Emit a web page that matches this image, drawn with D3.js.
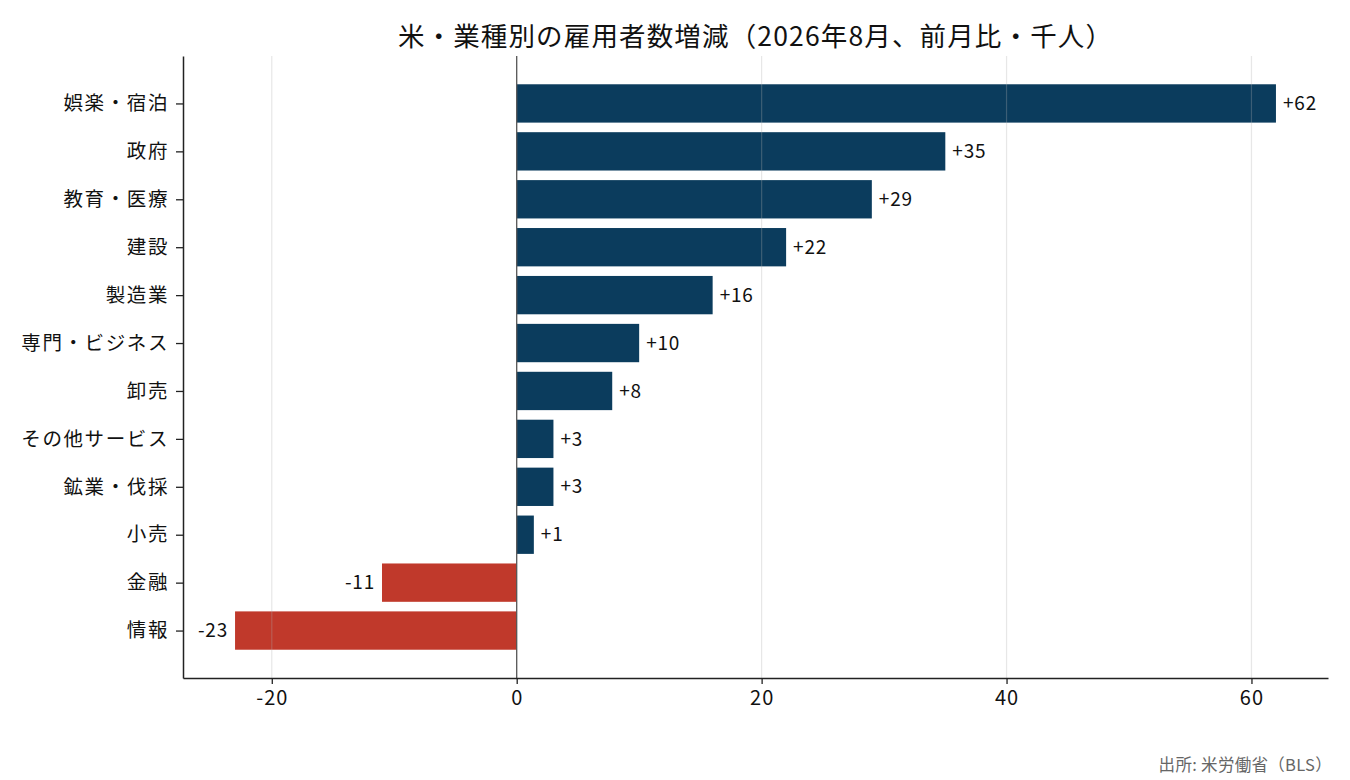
<!DOCTYPE html>
<html>
<head>
<meta charset="utf-8">
<script src="https://cdn.jsdelivr.net/npm/d3@7"></script>
<style>
  body { margin: 0; background: #fff; }
  svg { display: block; font-family: "Noto Sans CJK JP", "Noto Sans", sans-serif; }
</style>
</head>
<body>
<svg id="chart" width="1350" height="780"></svg>
<script>
// data, top to bottom
var categories = ['娯楽・宿泊', '政府', '教育・医療', '建設', '製造業', '専門・ビジネス',
  '卸売', 'その他サービス', '鉱業・伐採', '小売', '金融', '情報'];
var changes = [62, 35, 29, 22, 16, 10, 7.8, 3, 3, 1.4, -11, -23];
var xTicks = [-20, 0, 20, 40, 60];

var width = 1350, height = 780;
var margin = {top: 56, right: 22, bottom: 102, left: 183};
var svg = d3.select('#chart');

// hyphen minus, like the original
var fmtSigned = v => (v > 0 ? '+' : v < 0 ? '-' : '') + Math.abs(Math.round(v));
var fmtTick = v => (v < 0 ? '-' : '') + Math.abs(v);

// matplotlib-like 5% padding around the data
var xmin = d3.min(changes), xmax = d3.max(changes);
var pad = (xmax - xmin) * 0.05;
var x = d3.scaleLinear()
  .domain([xmin - pad, xmax + pad])
  .range([margin.left, width - margin.right]);

var n = categories.length;
var ypad = (n - 1 + 0.8) * 0.05;
var y = d3.scaleLinear()
  .domain([-0.4 - ypad, n - 1 + 0.4 + ypad])
  .range([margin.top, height - margin.bottom]);
var barH = y(0.8) - y(0);

var data = categories.map((c, i) => ({name: c, value: changes[i], i: i}));

// bars
svg.append('g').selectAll('rect')
  .data(data)
  .join('rect')
    .attr('x', d => x(Math.min(0, d.value)))
    .attr('y', d => y(d.i - 0.4))
    .attr('width', d => Math.abs(x(d.value) - x(0)))
    .attr('height', barH)
    .attr('fill', d => d.value >= 0 ? '#0b3c5d' : '#c0392b');

// vertical grid, drawn over bars
svg.append('g').selectAll('line')
  .data(xTicks.filter(t => t !== 0))
  .join('line')
    .attr('x1', d => x(d)).attr('x2', d => x(d))
    .attr('y1', margin.top).attr('y2', height - margin.bottom)
    .attr('stroke', '#b0b0b0')
    .attr('stroke-opacity', 0.3)
    .attr('stroke-width', 1.2);

// zero line
svg.append('line')
  .attr('x1', x(0)).attr('x2', x(0))
  .attr('y1', margin.top).attr('y2', height - margin.bottom)
  .attr('stroke', '#555')
  .attr('stroke-width', 1.3);

// value labels
svg.append('g').selectAll('text')
  .data(data)
  .join('text')
    .attr('x', d => d.value >= 0 ? x(d.value) + 7 : x(d.value) - 7)
    .attr('y', d => y(d.i))
    .attr('dy', '0.35em')
    .attr('text-anchor', d => d.value >= 0 ? 'start' : 'end')
    .attr('font-size', 19)
    .attr('letter-spacing', 0.8)
    .attr('fill', '#111')
    .text(d => fmtSigned(d.value));

// axes
var xAxis = svg.append('g')
  .attr('transform', `translate(0,${height - margin.bottom})`)
  .call(d3.axisBottom(x).tickValues(xTicks).tickFormat(fmtTick)
    .tickSize(6).tickPadding(7).tickSizeOuter(0));
var yAxis = svg.append('g')
  .attr('transform', `translate(${margin.left},0)`)
  .call(d3.axisLeft(y).tickValues(d3.range(n)).tickFormat(i => categories[i])
    .tickSize(7).tickPadding(7).tickSizeOuter(0));

[xAxis, yAxis].forEach(function(ax) {
  ax.select('.domain').attr('stroke', '#222').attr('stroke-width', 1.5);
  ax.selectAll('.tick line').attr('stroke', '#222').attr('stroke-width', 1.3);
  ax.selectAll('.tick text').attr('fill', '#111');
});
xAxis.attr('font-size', 20).attr('font-family', null);
yAxis.attr('font-size', 19.5).attr('font-family', null);
xAxis.selectAll('.tick text').attr('letter-spacing', 1);
yAxis.selectAll('.tick text').attr('letter-spacing', 1.6);

// title
svg.append('text')
  .attr('x', (margin.left + width - margin.right) / 2)
  .attr('y', 46)
  .attr('text-anchor', 'middle')
  .attr('font-size', 26.5)
  .attr('letter-spacing', 1.15)
  .attr('fill', '#111')
  .text('米・業種別の雇用者数増減（2026年8月、前月比・千人）');

// source
svg.append('text')
  .attr('x', width - 18)
  .attr('y', 771)
  .attr('text-anchor', 'end')
  .attr('font-size', 16.5)
  .attr('letter-spacing', 0.3)
  .attr('fill', '#666')
  .text('出所: 米労働省（BLS）');
</script>
</body>
</html>
